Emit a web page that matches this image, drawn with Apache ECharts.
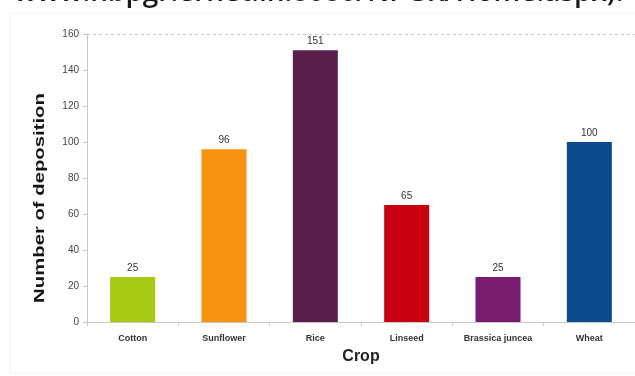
<!DOCTYPE html>
<html>
<head>
<meta charset="utf-8">
<script src="https://cdn.jsdelivr.net/npm/echarts@6/dist/echarts.min.js"></script>
<style>
  html, body { margin: 0; padding: 0; background: #fff; }
  #chart { width: 635px; height: 376px; }
</style>
</head>
<body>
<div id="chart"></div>
<script>
// Germplasm deposits per crop
const crops = ['Cotton', 'Sunflower', 'Rice', 'Linseed', 'Brassica juncea', 'Wheat'];
const depositions = [25, 96, 151, 65, 25, 100];
const barColors = ['#a6c911', '#f7930f', '#5a1f4c', '#c9000f', '#7a1c6e', '#0c4a8c'];
const yTicks = { min: 0, max: 160, step: 20 };
const headerLine = 'www.nbpgr.ernet.in:8080/NPGR/Home.aspx).';
const yTitle = 'Number of deposition';
const xTitle = 'Crop';

const chart = echarts.init(document.getElementById('chart'), null, { renderer: 'canvas' });

// only the top gridline (at the max value) is drawn, dashed
const nLines = (yTicks.max - yTicks.min) / yTicks.step + 1;
const splitColors = [];
for (let i = 0; i < nLines; i++) splitColors.push(i === nLines - 1 ? '#c8c8c8' : 'rgba(0,0,0,0)');

chart.setOption({
  animation: false,
  backgroundColor: '#ffffff',
  graphic: [
    {
      type: 'text',
      left: 14,
      top: -21,
      style: {
        text: headerLine,
        font: '600 28px "Open Sans", sans-serif',
        fill: '#1a1a1a'
      }
    },
    {
      // vertical axis title, drawn stretched along its reading direction
      type: 'text',
      x: 40,
      y: 198,
      rotation: Math.PI / 2,
      scaleX: 1.45,
      style: {
        text: yTitle,
        font: 'bold 14px Arial, "Liberation Sans", sans-serif',
        fill: '#151515',
        align: 'center',
        verticalAlign: 'middle'
      }
    },
    {
      type: 'rect',
      shape: { x: 10, y: 13, width: 640, height: 360 },
      style: { fill: 'none', stroke: '#f0f0f0', lineWidth: 1 },
      z: -1
    }
  ],
  grid: { left: 87, right: -2, top: 34, bottom: 54 },
  xAxis: {
    type: 'category',
    data: crops,
    name: xTitle,
    nameLocation: 'middle',
    nameGap: 27,
    nameTextStyle: { fontFamily: 'Arial, Liberation Sans, sans-serif', fontWeight: 'bold', fontSize: 16, color: '#222' },
    axisLine: { lineStyle: { color: '#c8c8c8' } },
    axisTick: { show: true, length: 4, lineStyle: { color: '#c8c8c8' } },
    axisLabel: { fontFamily: 'Arial, Liberation Sans, sans-serif', fontWeight: 'bold', fontSize: 9, color: '#333', margin: 12 }
  },
  yAxis: {
    type: 'value',
    min: yTicks.min,
    max: yTicks.max,
    interval: yTicks.step,
    axisLine: { show: true, lineStyle: { color: '#c8c8c8' } },
    axisTick: { show: true, length: 4, lineStyle: { color: '#c8c8c8' } },
    axisLabel: { fontFamily: 'Arial, Liberation Sans, sans-serif', fontSize: 10, color: '#444', margin: 8 },
    splitLine: { show: true, lineStyle: { color: splitColors, type: [3, 3] } }
  },
  series: [{
    type: 'bar',
    barWidth: 45,
    data: depositions.map((v, i) => ({ value: v, itemStyle: { color: barColors[i] } })),
    label: {
      show: true,
      position: 'top',
      distance: 4,
      fontFamily: 'Arial, Liberation Sans, sans-serif',
      fontSize: 10,
      color: '#333'
    }
  }]
});
</script>
</body>
</html>
